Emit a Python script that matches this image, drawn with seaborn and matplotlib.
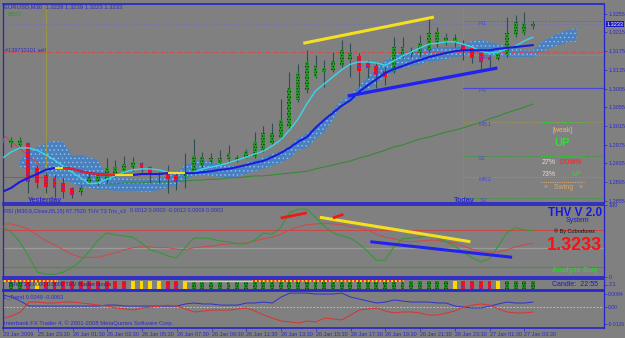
import numpy as np
import pandas as pd
import matplotlib
matplotlib.use("Agg")
import matplotlib.pyplot as plt
from matplotlib.lines import Line2D
import seaborn as sns

# ---------------------------------------------------------------------------
# values
# ---------------------------------------------------------------------------
tick_bars = [0, 4, 8, 12, 16, 20, 24, 28, 32, 36, 40, 44, 48, 52, 56, 60]
tick_texts = ["23 Jan 2009", "25 Jan 23:30", "26 Jan 01:30", "26 Jan 03:30",
              "26 Jan 05:30", "26 Jan 07:30", "26 Jan 09:30", "26 Jan 11:30",
              "26 Jan 13:30", "26 Jan 15:30", "26 Jan 17:30", "26 Jan 19:30",
              "26 Jan 21:30", "26 Jan 23:30", "27 Jan 01:30", "27 Jan 03:30"]

opens = [1.2978, 1.2978, 1.2974, 1.2978, 1.2925, 1.2910, 1.2904, 1.2893, 1.2882, 1.2874,
         1.2893, 1.2893, 1.2899, 1.2910, 1.2918, 1.2925, 1.2936, 1.2927, 1.2910, 1.2914,
         1.2910, 1.2906, 1.2916, 1.2931, 1.2938, 1.2936, 1.2942, 1.2942, 1.2948, 1.2948,
         1.2963, 1.2978, 1.2989, 1.3013, 1.3070, 1.3092, 1.3120, 1.3130, 1.3135, 1.3145,
         1.3156, 1.3165, 1.3150, 1.3143, 1.3132, 1.3130, 1.3162, 1.3169, 1.3171, 1.3177,
         1.3192, 1.3195, 1.3195, 1.3188, 1.3182, 1.3171, 1.3162, 1.3158, 1.3167, 1.3210,
         1.3214, 1.3228]
highs = [1.2993, 1.2991, 1.2991, 1.2981, 1.2931, 1.2916, 1.2910, 1.2904, 1.2884, 1.2889,
         1.2914, 1.2916, 1.2946, 1.2942, 1.2951, 1.2948, 1.2938, 1.2929, 1.2916, 1.2931,
         1.2916, 1.2957, 1.2987, 1.2959, 1.2957, 1.2963, 1.2974, 1.2953, 1.2966, 1.3002,
         1.3015, 1.3021, 1.3072, 1.3130, 1.3147, 1.3177, 1.3167, 1.3156, 1.3173, 1.3199,
         1.3192, 1.3171, 1.3156, 1.3152, 1.3141, 1.3205, 1.3205, 1.3184, 1.3210, 1.3248,
         1.3227, 1.3214, 1.3212, 1.3199, 1.3184, 1.3173, 1.3167, 1.3171, 1.3248, 1.3252,
         1.3259, 1.3239]
lows = [1.2972, 1.2970, 1.2970, 1.2871, 1.2882, 1.2871, 1.2863, 1.2861, 1.2861, 1.2867,
        1.2889, 1.2889, 1.2893, 1.2906, 1.2914, 1.2918, 1.2916, 1.2893, 1.2893, 1.2871,
        1.2878, 1.2882, 1.2914, 1.2925, 1.2936, 1.2933, 1.2938, 1.2938, 1.2946, 1.2946,
        1.2959, 1.2976, 1.2985, 1.3006, 1.3066, 1.3085, 1.3118, 1.3098, 1.3130, 1.3141,
        1.3120, 1.3098, 1.3118, 1.3096, 1.3103, 1.3128, 1.3160, 1.3162, 1.3162, 1.3173,
        1.3184, 1.3188, 1.3184, 1.3156, 1.3150, 1.3135, 1.3141, 1.3156, 1.3162, 1.3205,
        1.3210, 1.3223]
closes = [1.2989, 1.2985, 1.2985, 1.2895, 1.2893, 1.2884, 1.2882, 1.2874, 1.2867, 1.2884,
          1.2906, 1.2910, 1.2925, 1.2927, 1.2933, 1.2938, 1.2925, 1.2914, 1.2911, 1.2901,
          1.2895, 1.2916, 1.2951, 1.2948, 1.2946, 1.2946, 1.2957, 1.2948, 1.2961, 1.2981,
          1.3000, 1.3000, 1.3028, 1.3096, 1.3128, 1.3152, 1.3145, 1.3139, 1.3154, 1.3177,
          1.3171, 1.3132, 1.3139, 1.3124, 1.3120, 1.3184, 1.3184, 1.3175, 1.3192, 1.3214,
          1.3216, 1.3205, 1.3203, 1.3177, 1.3160, 1.3152, 1.3156, 1.3169, 1.3214, 1.3237,
          1.3235, 1.3233]

# cloud runs five bars past the last candle
cloud_top = [np.nan, np.nan, 1.2942, 1.2959, 1.2970, 1.2978, 1.2983, 1.2981, 1.2951, 1.2953,
             1.2948, 1.2942, 1.2908, 1.2904, 1.2904, 1.2901, 1.2901, 1.2901, 1.2904, 1.2908,
             1.2916, 1.2931, 1.2940, 1.2942, 1.2938, 1.2933, 1.2929, 1.2929, 1.2936, 1.2942,
             1.2948, 1.2955, 1.2961, 1.2972, 1.2989, 1.3000, 1.3013, 1.3028, 1.3049, 1.3070,
             1.3081, 1.3100, 1.3120, 1.3139, 1.3156, 1.3167, 1.3173, 1.3177, 1.3180, 1.3182,
             1.3182, 1.3184, 1.3184, 1.3188, 1.3197, 1.3199, 1.3195, 1.3190, 1.3186, 1.3182,
             1.3177, 1.3177, 1.3195, 1.3205, 1.3214, 1.3220, 1.3224]
cloud_bot = [np.nan, np.nan, 1.2927, 1.2921, 1.2916, 1.2910, 1.2904, 1.2899, 1.2893, 1.2884,
             1.2882, 1.2878, 1.2878, 1.2876, 1.2876, 1.2876, 1.2874, 1.2874, 1.2878, 1.2882,
             1.2889, 1.2899, 1.2908, 1.2910, 1.2908, 1.2906, 1.2904, 1.2906, 1.2912, 1.2918,
             1.2923, 1.2929, 1.2936, 1.2946, 1.2963, 1.2968, 1.2987, 1.3002, 1.3028, 1.3058,
             1.3066, 1.3079, 1.3092, 1.3105, 1.3122, 1.3130, 1.3139, 1.3143, 1.3147, 1.3152,
             1.3154, 1.3158, 1.3162, 1.3165, 1.3169, 1.3171, 1.3167, 1.3165, 1.3162, 1.3162,
             1.3162, 1.3162, 1.3173, 1.3182, 1.3188, 1.3195, 1.3195]

ma_fast = [1.2946, 1.2959, 1.2968, 1.2968, 1.2963, 1.2953, 1.2942, 1.2929, 1.2916, 1.2904,
           1.2891, 1.2893, 1.2901, 1.2908, 1.2916, 1.2921, 1.2923, 1.2923, 1.2921, 1.2916,
           1.2914, 1.2914, 1.2916, 1.2923, 1.2927, 1.2931, 1.2936, 1.2942, 1.2948, 1.2955,
           1.2961, 1.2972, 1.2985, 1.3006, 1.3030, 1.3062, 1.3090, 1.3105, 1.3120, 1.3135,
           1.3147, 1.3152, 1.3152, 1.3150, 1.3145, 1.3154, 1.3165, 1.3173, 1.3182, 1.3190,
           1.3192, 1.3195, 1.3195, 1.3190, 1.3184, 1.3175, 1.3171, 1.3173, 1.3180, 1.3186,
           1.3197, 1.3205]
ma_slow = [1.2874, 1.2882, 1.2895, 1.2904, 1.2912, 1.2921, 1.2925, 1.2925, 1.2923, 1.2918,
           1.2914, 1.2912, 1.2910, 1.2910, 1.2910, 1.2910, 1.2912, 1.2912, 1.2912, 1.2914,
           1.2914, 1.2914, 1.2914, 1.2916, 1.2918, 1.2921, 1.2923, 1.2927, 1.2931, 1.2936,
           1.2940, 1.2948, 1.2957, 1.2968, 1.2981, 1.2991, 1.3011, 1.3028, 1.3043, 1.3058,
           1.3070, 1.3088, 1.3102, 1.3115, 1.3128, 1.3137, 1.3143, 1.3150, 1.3156, 1.3162,
           1.3167, 1.3171, 1.3175, 1.3177, 1.3177, 1.3177, 1.3177, 1.3180, 1.3182, 1.3184,
           1.3186, 1.3188]
# b = rising (blue), y = flat (yellow), r = falling (red)
ma_slow_state = list("bbbbbbbyrrrrrryybbbbyybbbbbbbbbbbbbbbbbbbbbbbbbbbbbbbbbbbbbbbb")
ma_long = [np.nan, np.nan, np.nan, np.nan, np.nan, np.nan, np.nan, np.nan, np.nan, np.nan,
           np.nan, np.nan, 1.2891, 1.2891, 1.2893, 1.2893, 1.2893, 1.2895, 1.2895, 1.2895,
           1.2897, 1.2897, 1.2899, 1.2899, 1.2901, 1.2901, 1.2904, 1.2904, 1.2906, 1.2908,
           1.2908, 1.2910, 1.2912, 1.2914, 1.2916, 1.2918, 1.2923, 1.2927, 1.2931, 1.2936,
           1.2940, 1.2946, 1.2951, 1.2957, 1.2963, 1.2970, 1.2974, 1.2981, 1.2987, 1.2991,
           1.2996, 1.3002, 1.3006, 1.3011, 1.3017, 1.3023, 1.3030, 1.3036, 1.3043, 1.3049,
           1.3055, 1.3062]

price_ticks = [1.3255, 1.3215, 1.3175, 1.3135, 1.3095, 1.3055, 1.3015,
               1.2975, 1.2935, 1.2895, 1.2855]
bid = 1.3233
order_price = 1.3173
pivot_names = ["R1", "MR1", "PV", "MS1", "S1", "MS2", "S2"]
pivot_prices = [1.3240, 1.3167, 1.3096, 1.3023, 1.2951, 1.2906, 1.2861]
yesterday_bar = 5
today_bar = 53

# hand-drawn trend lines: (bar, value) end points
trend_price_yellow = ([34.6, 49.6], [1.3192, 1.3248])
trend_price_blue = ([39.7, 56.9], [1.3079, 1.3139])
old_red_diag = ([-0.3, 4.7], [1.3002, 1.2925])
old_red_flat = ([0.0, 5.0], [1.2906, 1.2906])

rsi = [70, 62, 49, 30, 8, 5, 5, 8, 14, 23,
       36, 51, 61, 58, 57, 55, 47, 38, 35, 30,
       27, 41, 54, 54, 53, 50, 49, 46, 46, 51,
       61, 59, 68, 88, 93, 93, 82, 70, 61, 57,
       54, 46, 36, 24, 24, 42, 53, 54, 55, 58,
       54, 49, 43, 35, 27, 22, 26, 43, 61, 68,
       65, 64]
rsi_signal = [73, 73, 70, 66, 58, 50, 45, 38, 32, 28,
              28, 28, 31, 34, 38, 41, 42, 42, 41, 41,
              39, 38, 41, 42, 43, 45, 46, 47, 47, 50,
              53, 55, 59, 65, 69, 72, 73, 74, 73, 72,
              69, 68, 65, 59, 55, 53, 50, 49, 50, 51,
              51, 49, 47, 43, 39, 36, 35, 35, 38, 42,
              45, 47]
rsi_levels = [65, 40, 15]
trend_rsi_yellow = ([36.5, 53.8], [82, 49])
trend_rsi_blue = ([42.3, 58.6], [49, 28])
rsi_red_marks = [([32.0, 35.0], [81, 88]), ([38.0, 39.2], [81, 86])]

strip_state = list("yggryrrrrrrrrrryyyyrryggggggggggggggggggggggggggggggyrrrrygggg")

trend_up = [0.0087, 0.0072, 0.0043, 0.0007, 0.0007, 0.0007, 0.0007, 0.0007, 0.0007, 0.0007,
            0.0007, 0.0007, 0.0014, 0.0014, 0.0007, 0.0007, 0.0007, 0.0007, 0.0007, 0.0007,
            0.0007, 0.0022, 0.0029, 0.0022, 0.0022, 0.0014, 0.0014, 0.0014, 0.0029, 0.0029,
            0.0036, 0.0029, 0.0072, 0.0101, 0.0101, 0.0101, 0.0094, 0.0094, 0.0094, 0.0101,
            0.0072, 0.0058, 0.0043, 0.0029, 0.0036, 0.0051, 0.0043, 0.0036, 0.0036, 0.0036,
            0.0029, 0.0029, 0.0007, 0.0000, -0.0007, -0.0007, 0.0007, 0.0022, 0.0036, 0.0029,
            0.0029, 0.0036]
trend_dn = [-0.0080, -0.0065, -0.0036, 0.0036, 0.0036, 0.0029, 0.0029, 0.0036, 0.0036, 0.0029,
            0.0022, 0.0014, 0.0007, -0.0007, -0.0014, -0.0022, -0.0007, 0.0000, 0.0007, 0.0014,
            0.0007, -0.0014, -0.0036, -0.0029, -0.0022, -0.0022, -0.0022, -0.0014, -0.0007, -0.0029,
            -0.0058, -0.0080, -0.0101, -0.0108, -0.0116, -0.0101, -0.0108, -0.0080, -0.0087, -0.0094,
            -0.0058, -0.0022, -0.0014, -0.0007, -0.0029, -0.0043, -0.0036, -0.0036, -0.0043, -0.0058,
            -0.0058, -0.0043, -0.0029, 0.0000, 0.0014, 0.0022, 0.0014, -0.0014, -0.0036, -0.0043,
            -0.0043, -0.0036]

# ---------------------------------------------------------------------------
W, H = 625, 338
BG = "#808080"
FRAME = "#2424cc"
TXT = "#2b2bd0"
XLIM = (0.08, 69.16)

sns.set_theme(style="white")
plt.rcParams["font.family"] = ["Liberation Sans", "DejaVu Sans"]
plt.rcParams["hatch.linewidth"] = 0.6

fig = plt.figure(figsize=(W / 100, H / 100), dpi=100, facecolor=BG)


def panel(top, bottom, ylim):
    ax = fig.add_axes([3 / W, 1 - bottom / H, 601 / W, (bottom - top) / H])
    ax.set_facecolor(BG)
    ax.set_xlim(*XLIM)
    ax.set_ylim(*ylim)
    for side, sp in ax.spines.items():
        sp.set_color(FRAME)
        sp.set_linewidth(1.2 if side in ("top", "bottom") else 0.9)
    ax.yaxis.tick_right()
    ax.tick_params(axis="y", labelsize=4, colors=TXT, length=2, width=0.5, pad=1.5)
    ax.tick_params(axis="x", bottom=False, labelbottom=False)
    ax.set_xlabel("")
    ax.set_ylabel("")
    return ax


def ftext(px, py, s, **kw):
    kw.setdefault("fontsize", 4)
    kw.setdefault("color", TXT)
    kw.setdefault("va", "center")
    fig.text(px / W, 1 - py / H, s, **kw)


def fline(x0, x1, py, **kw):
    fig.add_artist(Line2D([x0 / W, x1 / W], [1 - py / H, 1 - py / H], **kw))


bars = np.arange(len(closes))
df = pd.DataFrame({"bar": bars, "open": opens, "high": highs, "low": lows,
                   "close": closes, "fast": ma_fast, "slow": ma_slow,
                   "long": ma_long, "rsi": rsi, "sig": rsi_signal,
                   "up": trend_up, "dn": trend_dn})
cloud_bars = np.arange(len(cloud_top))

# ---------------- main price window ----------------
ax = panel(4, 203, (1.2850, 1.3276))
ax.fill_between(cloud_bars, cloud_bot, cloud_top, facecolor="#4a80bf",
                edgecolor="#86bde6", hatch="....", linewidth=0, zorder=1)

ax.axvline(yesterday_bar, color="#9a9448", lw=0.8, zorder=1)
ax.axvline(today_bar, color="#9a9448", lw=0.8, ls=(0, (1, 1.5)), zorder=1)
ax.axhline(bid, color="#6a6ad8", lw=0.6, ls=(0, (1, 2)), zorder=1)
ax.axhline(order_price, color="#d84848", lw=0.7, ls=(0, (4, 2, 1, 2)), zorder=1)

piv_style = {"R1": ("#c84848", (0, (2, 1.5)), 0.7), "MR1": ("#a89a40", (0, (1, 1.5)), 0.7),
             "PV": ("#4848d8", "-", 0.9), "MS1": ("#a89a40", (0, (1, 1.5)), 0.7),
             "S1": ("#2ea02e", (0, (1.5, 1.5)), 0.7), "MS2": ("#a89a40", (0, (1, 1.5)), 0.7),
             "S2": ("#2ea02e", (0, (1.5, 1.5)), 0.7)}
for name, lvl in zip(pivot_names, pivot_prices):
    col, ls, lw = piv_style[name]
    ax.plot([today_bar, XLIM[1]], [lvl, lvl], color=col, ls=ls, lw=lw, zorder=1)
    if name != "S2":
        ax.text(today_bar + 1.7, lvl, name, color="#4a4ae0", fontsize=4.6,
                va="top", ha="left", zorder=6)

ax.plot(*old_red_diag, color="#d84040", lw=0.7, zorder=2)
ax.plot(*old_red_flat, color="#c84040", lw=0.7, zorder=2)

sns.lineplot(data=df, x="bar", y="long", ax=ax, color="#2e8b2e", lw=0.7,
             errorbar=None, legend=False, zorder=2)

# candles
up = df["close"] >= df["open"]
ax.vlines(df["bar"], df["low"], df["high"], color="#2f4f58", lw=0.8, zorder=3)
body_lo = np.minimum(df["open"], df["close"])
body_h = np.maximum(np.abs(df["close"] - df["open"]), 0.00012)
ax.bar(df["bar"][up], body_h[up], bottom=body_lo[up], width=0.45,
       facecolor="#2a9a2a", edgecolor="#0f2f0f", hatch="......", linewidth=0, zorder=4)
ax.bar(df["bar"][~up], body_h[~up], bottom=body_lo[~up], width=0.45,
       facecolor="#ff1010", edgecolor="#3030ff", hatch="......", linewidth=0, zorder=4)

sns.lineplot(data=df, x="bar", y="fast", ax=ax, color="#38d8e8", lw=1.0,
             errorbar=None, legend=False, zorder=5)
sns.lineplot(data=df, x="bar", y="slow", ax=ax, color="#1c1cd8", lw=1.5,
             errorbar=None, legend=False, zorder=5)
state_col = {"y": "#f0e020", "r": "#f02020"}
for i in range(1, len(ma_slow)):
    st = ma_slow_state[i]
    if st in state_col:
        ax.plot([i - 1, i], [ma_slow[i - 1], ma_slow[i]], color=state_col[st],
                lw=1.5, solid_capstyle="butt", zorder=5)

ax.plot(*trend_price_yellow, color="#f4e020", lw=2.2, solid_capstyle="butt", zorder=6)
ax.plot(*trend_price_blue, color="#2222ee", lw=2.4, solid_capstyle="butt", zorder=6)

ax.set_yticks(price_ticks)
ax.set_yticklabels([f"{v:.4f}" for v in price_ticks])
ax.set_xlabel("")
ax.set_ylabel("")

ftext(4, 7, "EURUSD,M30  1.3228 1.3239 1.3223 1.3233", fontsize=4.2)
ftext(7, 15, "BB/O", color="#2e9a2e", fontsize=4.2)
ftext(5, 50, "#139733101 sell", fontsize=4)
ftext(45, 200, "Yesterday", fontsize=5.2, ha="center", fontweight="bold")
ftext(464, 200, "Today", fontsize=5.2, ha="center", fontweight="bold")
ftext(480, 200, "S2", color="#4a4ae0", fontsize=4.6)
fig.text(615 / W, 1 - 24 / H, f"{bid:.4f}", fontsize=4, color="white", ha="center",
         va="center", bbox=dict(boxstyle="square,pad=0.12", fc="#1818c8", ec="none"))

# signal box on the right of the price window
fline(541, 584, 122, color="#30d030", lw=0.8, ls=(0, (1, 1)))
fline(541, 584, 156, color="#30d030", lw=0.8, ls=(0, (1, 1)))
fline(541, 584, 182, color="#d8a868", lw=0.8, ls=(0, (1, 1)))
ftext(563, 131, "[weak]", color="#e8b870", fontsize=5, ha="center")
ftext(562, 143, "UP", color="#30e030", fontsize=8, ha="center", fontweight="bold")
ftext(542, 163, "27%", color="#f4d8d0", fontsize=5)
ftext(560, 163, "DOWN", color="#f03030", fontsize=5, fontweight="bold")
ftext(542, 175, "73%", color="#f4d8d0", fontsize=5)
ftext(572, 175, "UP", color="#30d030", fontsize=5, fontweight="bold")
ftext(563, 188, "\u00bb   Swing   \u00ab", color="#d8a868", fontsize=5, ha="center")

# ---------------- RSI window ----------------
ar = panel(205, 277, (1.35, 98.6))
for lvl, col in zip(rsi_levels, ["#c84848", "#9a9a9a", "#4e8a4e"]):
    ar.axhline(lvl, color=col, lw=0.9 if lvl != 65 else 0.7, zorder=1)
sns.lineplot(data=df, x="bar", y="sig", ax=ar, color="#d04848", lw=0.7,
             errorbar=None, legend=False, zorder=2)
sns.lineplot(data=df, x="bar", y="rsi", ax=ar, color="#2e9a2e", lw=0.7,
             errorbar=None, legend=False, zorder=3)
ar.plot(*trend_rsi_yellow, color="#f4e020", lw=2.2, solid_capstyle="butt", zorder=4)
ar.plot(*trend_rsi_blue, color="#2222ee", lw=2.2, solid_capstyle="butt", zorder=4)
for xs, ys in rsi_red_marks:
    ar.plot(xs, ys, color="#f01818", lw=2.0, solid_capstyle="butt", zorder=4)
ar.set_yticks([98.6, 1.35])
ar.set_yticklabels(["100", "0"])
ar.set_xlabel("")
ar.set_ylabel("")

ftext(4, 211, "RSI (M30,6,Close,65,15) 67.7520", fontsize=4)
ftext(88, 211, "THV T3 Trix_v3", fontsize=4)
ftext(130, 211, "0.0012 0.0000 -0.0012 0.0009 0.0003", fontsize=4)
ftext(575, 213, "THV V 2.0", color="#1818e0", fontsize=8.5, ha="center", fontweight="bold")
ftext(577, 221, "System", color="#1818e0", fontsize=5, ha="center")
ftext(574, 231, "\u00ae By Cobraforex", color="#101010", fontsize=4, ha="center")
ftext(574, 245, "1.3233", color="#ff1010", fontsize=13, ha="center", fontweight="bold")
ftext(575, 270, "Analyze Buy", color="#30d030", fontsize=5.5, ha="center", fontweight="bold")

# ---------------- colour strip ----------------
asx = panel(279, 290, (0, 1))
strip_col = {"g": "#1e8c1e", "r": "#ff1010", "y": "#ffd800"}
strip_hatch = {"g": "#0c2c0c", "r": "#3030ff", "y": "#ffd800"}
for st in "gry":
    sel = [i for i, s in enumerate(strip_state) if s == st]
    asx.bar(sel, 0.72, bottom=0.08, width=0.45, facecolor=strip_col[st],
            edgecolor=strip_hatch[st], hatch="......", linewidth=0, zorder=2)
asx.plot([0, 6.3], [0.82, 0.82], color="#ffd800", lw=1.4, zorder=3)
asx.plot([0, 6.3], [0.82, 0.82], color="#ff2020", lw=1.4, ls=(0, (1, 1)), zorder=3)
asx.plot([20.8, 28.8], [0.82, 0.82], color="#c8c8c8", lw=1.0, zorder=3)
asx.plot([28.8, 46.0], [0.82, 0.82], color="#ffd800", lw=1.4, zorder=3)
asx.plot([28.8, 46.0], [0.82, 0.82], color="#ff2020", lw=1.4, ls=(0, (1, 1)), zorder=3)
asx.set_yticks([0.5])
asx.set_yticklabels(["2.1"])
asx.set_xlabel("")
asx.set_ylabel("")
ftext(8, 284, "THV T3 0.0000 0.0000 THV Market Hours", fontsize=4, color="#20208a")
ftext(552, 284, "Candle:  22:55", fontsize=5, color="#1818d0")

# ---------------- trend oscillator ----------------
ab = panel(291, 328, (-0.0152, 0.0116))
ab.axhline(0, color="#e8e020", lw=0.6, ls=(0, (2, 2)), zorder=1)
sns.lineplot(data=df, x="bar", y="up", ax=ab, color="#3030d0", lw=0.7,
             errorbar=None, legend=False, zorder=2)
sns.lineplot(data=df, x="bar", y="dn", ax=ab, color="#e03030", lw=0.7,
             errorbar=None, legend=False, zorder=2)
ab.set_yticks([0.0094, 0.0, -0.0126])
ab.set_yticklabels(["0.0094", "0.00", "-0.0126"])
ab.tick_params(axis="y", labelsize=3.6, pad=1.0)
ab.set_xticks(tick_bars)
ab.set_xticklabels(tick_texts, ha="left")
ab.tick_params(axis="x", bottom=True, labelbottom=True, labelsize=4, colors=TXT,
               length=2, width=0.5, pad=1.2)
ab.set_xlabel("")
ab.set_ylabel("")
ftext(4, 297, "L_Trend 0.0049 -0.0063", fontsize=4)
ftext(4, 323, "Interbank FX Trader 4, \u00a9 2001-2008 MetaQuotes Software Corp.", fontsize=4.2)

fig.savefig("out.png", dpi=100, facecolor=BG)
